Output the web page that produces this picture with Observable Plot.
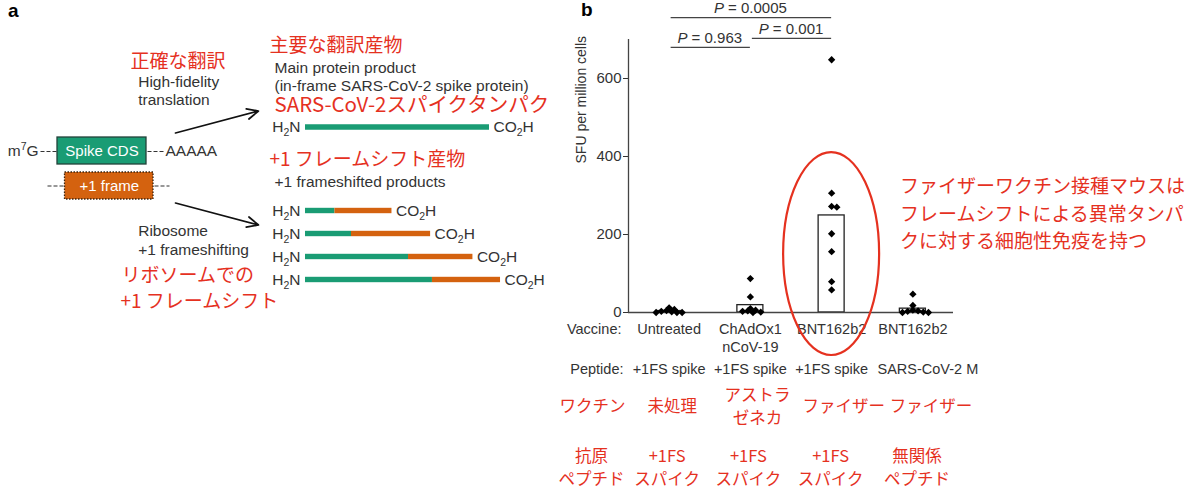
<!DOCTYPE html>
<html><head><meta charset="utf-8">
<script src="https://cdn.jsdelivr.net/npm/d3@7"></script>
<script src="https://cdn.jsdelivr.net/npm/@observablehq/plot@0.6"></script>
<style>
body{margin:0;background:#fff;}
#fig{position:relative;width:1200px;height:502px;overflow:hidden;background:#fff;font-family:"Liberation Sans",Arial,sans-serif;}
#fig svg{position:absolute;top:0;left:0;overflow:visible;max-width:none;}
.ja{font-family:"Noto Sans CJK JP",sans-serif;}
.abs{position:absolute;white-space:nowrap;}
</style></head>
<body><div id="fig"></div>
<script>
// ---------------- DATA ----------------
// Panel a: protein products (lengths in % of full spike)
const productNames = ["in-frame", "fs1", "fs2", "fs3", "fs4"];
const inFrameLength = [100, 16, 25, 56, 69];
const shiftedLength = [0, 31, 43, 35, 37];

// Panel b: groups and SFU per million cells (one value per mouse)
const groupIndex = [0, 1, 2, 3];
const vaccineLabels = ["Untreated", "ChAdOx1\nnCoV-19", "BNT162b2", "BNT162b2"];
const peptideLabels = ["+1FS spike", "+1FS spike", "+1FS spike", "SARS-CoV-2 M"];
const vaccineJa = ["未処理", "アストラ\nゼネカ", "ファイザー", "ファイザー"];
const peptideJa = ["+1FS\nスパイク", "+1FS\nスパイク", "+1FS\nスパイク", "無関係\nペプチド"];
const sfuUntreated = [12, 8, 5, 3, 2, 0, 0, 0];
const sfuChAdOx1 = [87, 40, 10, 6, 4, 3, 1, 0];
const sfuBNTfs = [648, 306, 272, 270, 202, 156, 79, 58];
const sfuBNTM = [47, 18, 6, 4, 3, 1, 0, 0];
const yTicks = [0, 200, 400, 600];
const pLabels = ["P = 0.0005", "P = 0.001", "P = 0.963"];
const pFrom = [0, 1, 0];
const pTo = [2, 2, 1];
const pLevel = [756, 703, 680];

// ---------------- STYLE ----------------
const LATIN = '"Liberation Sans", Arial, sans-serif';
const CJK = '"Noto Sans CJK JP", sans-serif';
const RED = "#e5311f";
const GREEN = "#1a9c74";
const ORANGE = "#d4620f";
const INK = "#333";
// small horizontal nudges (px) of label columns, as in the original figure
const peptideNudge = [0, 0, 0, 15];
const vaccineJaNudge = [3, 7, 12, 18];
const peptideJaNudge = [-2, -2, -1, 4];

const fig = document.getElementById("fig");
function place(el, left, top) { el.style.left = left + "px"; el.style.top = top + "px"; fig.appendChild(el); return el; }
function rich(svg, map) {
  d3.select(svg).selectAll("text").each(function () {
    const t = this.textContent;
    if (map[t] !== undefined) this.innerHTML = map[t];
  });
}

// ---------------- PANEL A : schematic ----------------
const cdsBox = [{x1: 57, x2: 146, y1: 137, y2: 164}];
const frameBox = [{x1: 64.5, x2: 153, y1: 172, y2: 199}];
const dashes = [
  {x1: 40, x2: 56, y: 151}, {x1: 147, x2: 163, y: 151},
  {x1: 47, x2: 63.5, y: 185.5}, {x1: 154, x2: 169, y: 185.5}
];
const arrows = [
  {x1: 175, y1: 132.5, x2: 258, y2: 110.5},
  {x1: 175, y1: 202.5, x2: 258, y2: 224.5}
];
const blackText = [
  {x: 137.7, y: 81.5, t: "High-fidelity"},
  {x: 137.7, y: 99.5, t: "translation"},
  {x: 274, y: 68, t: "Main protein product"},
  {x: 274, y: 86, t: "(in-frame SARS-CoV-2 spike protein)"},
  {x: 274, y: 181.5, t: "+1 frameshifted products"},
  {x: 137.7, y: 231, t: "Ribosome"},
  {x: 137.7, y: 250, t: "+1 frameshifting"},
  {x: 7.3, y: 151, t: "m7G"},
  {x: 165, y: 151, t: "AAAAA"}
];
const redText = [
  {x: 130, y: 61.5, t: "正確な翻訳"},
  {x: 269, y: 45, t: "主要な翻訳産物"},
  {x: 269, y: 159, t: "+1 フレームシフト産物"},
  {x: 121, y: 275, t: "リボソームでの"},
  {x: 120, y: 301.5, t: "+1 フレームシフト"}
];
const boxText = [
  {x: 101.5, y: 150.8, t: "Spike CDS"},
  {x: 108.8, y: 185.5, t: "+1 frame"}
];

const diagram = Plot.plot({
  width: 560, height: 330, margin: 0,
  x: {type: "linear", domain: [0, 560], range: [0, 560], axis: null},
  y: {type: "linear", domain: [0, 330], range: [0, 330], axis: null},
  style: {background: "transparent", fontFamily: LATIN, overflow: "visible"},
  marks: [
    Plot.link(dashes, {x1: "x1", x2: "x2", y1: "y", y2: "y", stroke: INK, strokeWidth: 1.2, strokeDasharray: "4,2"}),
    Plot.rect(cdsBox, {x1: "x1", x2: "x2", y1: "y1", y2: "y2", fill: GREEN, stroke: "#22423a", strokeWidth: 1.3}),
    Plot.rect(frameBox, {x1: "x1", x2: "x2", y1: "y1", y2: "y2", fill: ORANGE, stroke: "#3a2410", strokeWidth: 1.3, strokeDasharray: "1.5,1.5"}),
    Plot.arrow(arrows, {x1: "x1", y1: "y1", x2: "x2", y2: "y2", stroke: "#111", strokeWidth: 1.7, headLength: 11, headAngle: 50}),
    Plot.text(blackText, {x: "x", y: "y", text: "t", textAnchor: "start", fontSize: 15.5, fill: INK}),
    Plot.text(boxText, {x: "x", y: "y", text: "t", fontSize: 15, fill: "white"}),
    Plot.text(redText, {x: "x", y: "y", text: "t", textAnchor: "start", fontSize: 19, fill: RED, fontFamily: CJK}),
    Plot.text(["SARS-CoV-2スパイクタンパク"], {x: 274, y: 105, textAnchor: "start", fontSize: 20.5, fill: RED, fontFamily: CJK})
  ]
});
rich(diagram, {"m7G": 'm<tspan font-size="10.5" dy="-6">7</tspan><tspan dy="6">G</tspan>'});
place(diagram, 0, 0);

// product bars
const products = productNames.map((name, i) => ({name, inFrame: inFrameLength[i], shifted: shiftedLength[i]}));
function productPlot(rows, top, height) {
  const inset = (height / rows.length - 5.5) / 2;
  const p = Plot.plot({
    width: 560, height, margin: 0,
    x: {domain: [0, 100], range: [305, 489], axis: null},
    y: {domain: rows.map(d => d.name), padding: 0, axis: null},
    style: {background: "transparent", fontFamily: LATIN, overflow: "visible"},
    marks: [
      Plot.barX(rows, {y: "name", x1: 0, x2: "inFrame", fill: GREEN, insetTop: inset, insetBottom: inset}),
      Plot.barX(rows.filter(d => d.shifted > 0), {y: "name", x1: "inFrame", x2: d => d.inFrame + d.shifted, fill: ORANGE, insetTop: inset, insetBottom: inset}),
      Plot.text(rows, {y: "name", x: 0, text: () => "H2N", textAnchor: "end", dx: -5, fontSize: 15.5, fill: INK}),
      Plot.text(rows, {y: "name", x: d => d.inFrame + d.shifted, text: () => "CO2H", textAnchor: "start", dx: 4, fontSize: 15.5, fill: INK})
    ]
  });
  rich(p, {
    "H2N": 'H<tspan font-size="10.5" dy="4">2</tspan><tspan dy="-4">N</tspan>',
    "CO2H": 'CO<tspan font-size="10.5" dy="4">2</tspan><tspan dy="-4">H</tspan>'
  });
  return place(p, 0, top);
}
productPlot(products.slice(0, 1), 115, 24);
productPlot(products.slice(1), 198.5, 92.4);

// ---------------- PANEL B : bar + dot chart ----------------
const W = 640, H = 502, mL = 68, mR = 247, mT = 39, mB = 190;
const xDomain = [-0.5, 3.5], yDomain = [0, 700];
const pxPerX = (W - mL - mR) / (xDomain[1] - xDomain[0]);
const pxPerY = (H - mT - mB) / (yDomain[1] - yDomain[0]);
const sfu = [sfuUntreated, sfuChAdOx1, sfuBNTfs, sfuBNTM];

// simple beeswarm layout so that equal values sit side by side
const step = 2.6, minD = 3.4;
const points = [];
sfu.forEach((vals, i) => {
  const placed = [];
  [...vals].sort((a, b) => b - a).forEach(v => {
    const py = v * pxPerY;
    let off = 0;
    for (let k = 0; k < 40; k++) {
      const cand = k === 0 ? 0 : (k % 2 ? 1 : -1) * Math.ceil(k / 2) * step;
      if (placed.every(p => Math.hypot(p.dx - cand, p.py - py) >= minD)) { off = cand; break; }
    }
    placed.push({dx: off, py});
    points.push({group: i, value: v, xpos: i + off / pxPerX});
  });
});
const means = groupIndex.map(i => ({group: i, mean: d3.mean(sfu[i])}));
const brackets = pLabels.map((label, i) => ({label, from: pFrom[i], to: pTo[i], level: pLevel[i]}));

// split multi-line labels into single lines, each with its vertical offset (in line units)
function lineRows(labels, nudge, topAligned) {
  const rows = [];
  labels.forEach((lab, g) => {
    const lines = lab.split("\n");
    lines.forEach((t, j) => rows.push({x: g + (nudge ? nudge[g] : 0) / pxPerX, t, k: topAligned ? j : j - (lines.length - 1) / 2}));
  });
  return rows;
}
function lineMarks(rows, baseDy, spacing, opts) {
  const ks = Array.from(new Set(rows.map(r => r.k)));
  return ks.map(k => Plot.text(rows.filter(r => r.k === k), {x: "x", text: "t", frameAnchor: "bottom", dy: baseDy + k * spacing, ...opts}));
}
const jaOpts = {fontSize: 16.5, fill: RED, fontFamily: CJK};
const enOpts = {fontSize: 14.5, fill: INK};
const rowVaccine = 21.5, rowPeptide = 61.5, rowVaccineJa = 99.5, rowPeptideJa = 161;

const plotB = Plot.plot({
  width: W, height: H,
  marginLeft: mL, marginRight: mR, marginTop: mT, marginBottom: mB,
  x: {type: "linear", domain: xDomain, axis: null},
  y: {domain: yDomain, ticks: yTicks, tickSize: 5, tickPadding: 2, label: null},
  style: {background: "transparent", fontFamily: LATIN, fontSize: "15px", color: INK, overflow: "visible"},
  marks: [
    Plot.ruleX([xDomain[0]], {y1: yDomain[0], y2: yDomain[1], stroke: "#444", strokeWidth: 1.3}),
    Plot.rectY(means, {x1: d => d.group - 0.16, x2: d => d.group + 0.16, y1: 0, y2: "mean", fill: "white", stroke: "#222", strokeWidth: 1.3}),
    Plot.ruleY([0], {stroke: "#444", strokeWidth: 1.3}),
    Plot.dot(points, {x: "xpos", y: "value", symbol: "diamond2", r: 3.3, fill: "black"}),
    // significance brackets
    Plot.ruleY(brackets, {x1: "from", x2: "to", y: "level", stroke: "#444", strokeWidth: 1.3, insetLeft: 2}),
    Plot.text(brackets, {x: d => (d.from + d.to) / 2, y: "level", dy: -9, text: "label", fontSize: 15, fill: INK}),
    // y label
    Plot.text(["SFU per million cells"], {frameAnchor: "left", rotate: -90, dx: -47, dy: -12.5, fontSize: 14, fill: INK}),
    // category rows (English)
    Plot.text(["Vaccine:"], {frameAnchor: "bottom-left", textAnchor: "end", dx: -7, dy: rowVaccine, ...enOpts}),
    ...lineMarks(lineRows(vaccineLabels, null, true), rowVaccine, 17.5, enOpts),
    Plot.text(["Peptide:"], {frameAnchor: "bottom-left", textAnchor: "end", dx: -5, dy: rowPeptide, ...enOpts}),
    ...lineMarks(lineRows(peptideLabels, peptideNudge), rowPeptide, 17.5, enOpts),
    // category rows (Japanese)
    ...lineMarks([{x: xDomain[0] - 36 / pxPerX, t: "ワクチン", k: 0}], rowVaccineJa, 23, jaOpts),
    ...lineMarks(lineRows(vaccineJa, vaccineJaNudge), rowVaccineJa, 23, jaOpts),
    ...lineMarks(lineRows(["抗原\nペプチド"]).map(r => ({...r, x: xDomain[0] - 37 / pxPerX})), rowPeptideJa, 23, jaOpts),
    ...lineMarks(lineRows(peptideJa, peptideJaNudge), rowPeptideJa, 23, jaOpts)
  ]
});
const pMap = {};
pLabels.forEach(l => { pMap[l] = '<tspan font-style="italic">P</tspan>' + l.slice(1); });
rich(plotB, pMap);
// highlight ellipse around the BNT162b2 (+1FS) group
const xs = plotB.scale("x"), ys = plotB.scale("y");
const eTop = ys.apply(410), eBottom = ys.apply(0) + 43;
d3.select(plotB).append("ellipse")
  .attr("cx", xs.apply(2)).attr("cy", (eTop + eBottom) / 2)
  .attr("rx", 48).attr("ry", (eBottom - eTop) / 2)
  .attr("fill", "none").attr("stroke", RED).attr("stroke-width", 2.2);
place(plotB, 560, 0);

// ---------------- text annotations ----------------
const la = document.createElement("div"); la.className = "abs"; la.textContent = "a";
la.style.cssText += "font-weight:700;font-size:19px;line-height:1;color:#000;";
place(la, 8, 1);
const lb = document.createElement("div"); lb.className = "abs"; lb.textContent = "b";
lb.style.cssText += "font-weight:700;font-size:19px;line-height:1;color:#000;";
place(lb, 581, 0);
const note = document.createElement("div"); note.className = "abs ja";
note.innerHTML = "ファイザーワクチン接種マウスは<br>フレームシフトによる異常タンパ<br>クに対する細胞性免疫を持つ";
note.style.cssText += "font-size:19px;line-height:27.5px;color:" + RED + ";";
place(note, 900, 171);
</script></body></html>
